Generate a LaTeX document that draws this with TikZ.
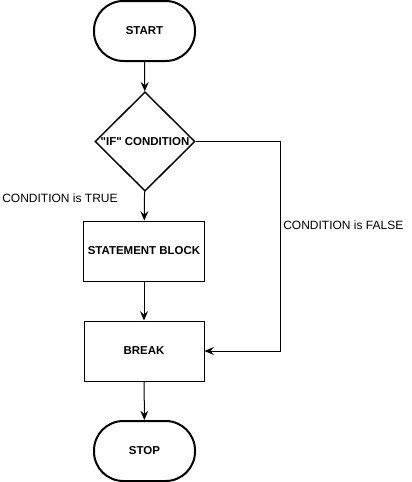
\documentclass[tikz,border=0pt]{standalone}
\usepackage{fontspec}
\setmainfont{Liberation Sans}[Ligatures=TeXOff]
\usetikzlibrary{shapes.geometric,arrows.meta}
\tikzset{
  terminal/.style={draw, line width=1.5pt, rounded corners=22pt, minimum width=75.75pt, minimum height=45pt, font=\fontsize{8.6}{10}\selectfont\bfseries},
  process/.style={draw, line width=0.75pt, minimum width=90pt, minimum height=45pt, font=\fontsize{8.6}{10}\selectfont\bfseries},
  decision/.style={draw, diamond, line width=1.1pt, inner sep=0pt, minimum width=75pt, minimum height=74.5pt},
  note/.style={anchor=west, inner sep=0pt, font=\fontsize{9}{11}\selectfont},
  arr/.style={line width=0.75pt, -{Stealth[length=7pt,width=6pt,inset=2.5pt]}}
}
\begin{document}
\begin{tikzpicture}[x=0.75pt,y=0.75pt,yscale=-1,xscale=1]
\useasboundingbox (0,0) rectangle (411,482);

%Shape: Terminal
\node[terminal] (start) at (144.5,31) {START};
%Shape: Diamond
\node[decision, label={[font=\fontsize{8.6}{10}\selectfont\bfseries]center:"IF" CONDITION}] (cond) at (145,141.5) {};
%Shape: Rectangle
\node[process] (stmt) at (144,251) {STATEMENT BLOCK};
%Shape: Rectangle
\node[process] (brk) at (144,351) {BREAK};
%Shape: Terminal
\node[terminal] (stop) at (144.5,451) {STOP};

%Straight Lines
\draw[arr] (start) -- (cond);
\draw[arr] (cond) -- (stmt);
\draw[arr] (stmt) -- (brk);
\draw[arr] (brk) -- (stop);
\coordinate (fcorner) at (280,141.5);
\draw[arr] (cond.east) -- (fcorner) |- (brk.east);

% Text Node
\node[note] (truelbl) at (2,198) {CONDITION is TRUE};
% Text Node
\node[note] (falselbl) at (283,225) {CONDITION is FALSE};

\end{tikzpicture}
\end{document}
